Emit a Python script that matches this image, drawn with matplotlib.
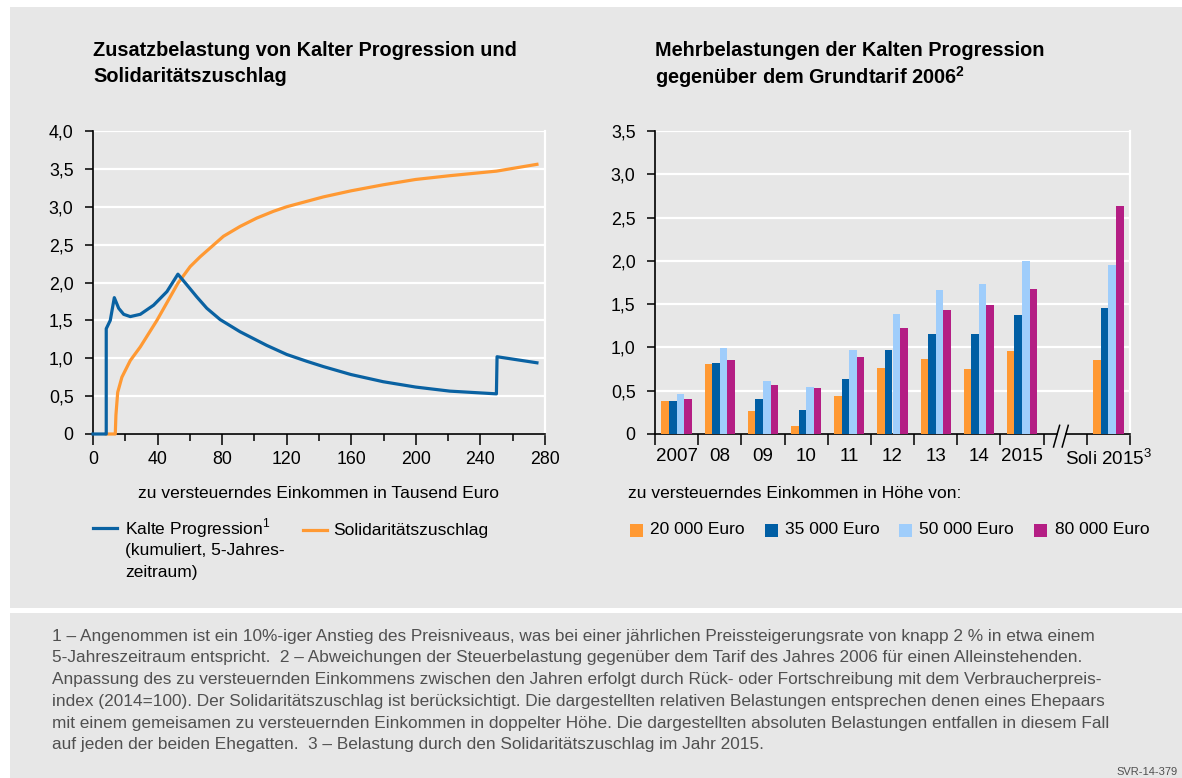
import numpy as np
import matplotlib.pyplot as plt
from matplotlib.patches import Rectangle
from matplotlib.lines import Line2D
from matplotlib.ticker import MultipleLocator, FuncFormatter

# left chart: cumulative extra burden (in %) by taxable income (thousand euro)
kp_x = [0, 8.2, 8.2, 10.7, 13.2, 15.9, 19, 23.1, 29.3, 37.5, 45.8, 52.6, 58.1, 64.3, 70.5,
        78.8, 91.1, 107.6, 120, 132.4, 142.7, 159.8, 179.8, 199.8, 221, 249.9, 250.3, 275]
kp_y = [0, 0, 1.39, 1.50, 1.80, 1.66, 1.58, 1.55, 1.58, 1.70, 1.88, 2.11, 1.97, 1.81, 1.66,
        1.51, 1.35, 1.17, 1.05, 0.96, 0.89, 0.785, 0.69, 0.62, 0.566, 0.53, 1.02, 0.94]
soli_x = [8.2, 13.8, 14.2, 15.3, 17.9, 23.1, 29.3, 39.6, 52.6, 60.2, 66.4, 80.8, 91.1, 101.4,
          111.8, 120, 142.7, 159.8, 179.8, 199.8, 221, 249.9, 275]
soli_y = [0, 0, 0.25, 0.55, 0.75, 0.97, 1.15, 1.50, 1.99, 2.21, 2.34, 2.61, 2.74, 2.85,
          2.94, 3.0, 3.13, 3.21, 3.29, 3.36, 3.41, 3.47, 3.56]

# right chart: extra burden vs. 2006 tariff
years = ["2007", "08", "09", "10", "11", "12", "13", "14", "2015", "", "Soli 2015$^3$"]
inc_labels = ["20 000 Euro", "35 000 Euro", "50 000 Euro", "80 000 Euro"]
v20 = [0.38, 0.81, 0.27, 0.09, 0.44, 0.76, 0.87, 0.75, 0.96, np.nan, 0.85]
v35 = [0.38, 0.82, 0.40, 0.28, 0.64, 0.97, 1.16, 1.15, 1.37, np.nan, 1.46]
v50 = [0.46, 0.99, 0.61, 0.54, 0.97, 1.39, 1.66, 1.73, 2.00, np.nan, 1.95]
v80 = [0.40, 0.85, 0.57, 0.53, 0.89, 1.22, 1.43, 1.49, 1.68, np.nan, 2.63]

notes = [
    "1 – Angenommen ist ein 10%-iger Anstieg des Preisniveaus, was bei einer jährlichen Preissteigerungsrate von knapp 2 % in etwa einem",
    "5-Jahreszeitraum entspricht.  2 – Abweichungen der Steuerbelastung gegenüber dem Tarif des Jahres 2006 für einen Alleinstehenden.",
    "Anpassung des zu versteuernden Einkommens zwischen den Jahren erfolgt durch Rück- oder Fortschreibung mit dem Verbraucherpreis-",
    "index (2014=100). Der Solidaritätszuschlag ist berücksichtigt. Die dargestellten relativen Belastungen entsprechen denen eines Ehepaars",
    "mit einem gemeisamen zu versteuernden Einkommen in doppelter Höhe. Die dargestellten absoluten Belastungen entfallen in diesem Fall",
    "auf jeden der beiden Ehegatten.  3 – Belastung durch den Solidaritätszuschlag im Jahr 2015.",
]

BG = "#e7e7e7"
BLUE = "#0a62a2"
ORANGE = "#ff9933"
bar_cols = ["#ff9933", "#005ea4", "#9fcdfb", "#b41e84"]
FONT = "Liberation Sans"
plt.rcParams["font.family"] = FONT
plt.rcParams["mathtext.fontset"] = "custom"
plt.rcParams["mathtext.rm"] = FONT
plt.rcParams["mathtext.bf"] = FONT + ":bold"

W, H = 1182, 778
fig = plt.figure(figsize=(W / 100, H / 100), dpi=100)
fig.patch.set_facecolor("white")


def fx(x):
    return x / W


def fy(y):
    return 1 - y / H


fig.patches.append(Rectangle((fx(10), fy(608)), fx(W - 10), 601 / H, transform=fig.transFigure,
                             facecolor=BG, edgecolor="none", zorder=-5))
fig.patches.append(Rectangle((fx(10), 0), fx(W - 10), fy(613), transform=fig.transFigure,
                             facecolor=BG, edgecolor="none", zorder=-5))


def fmt(v, pos):
    return "0" if abs(v) < 1e-9 else f"{v:.1f}".replace(".", ",")


def style(ax, ymax):
    ax.set_facecolor(BG)
    ax.set_ylim(0, ymax)
    ax.yaxis.set_major_locator(MultipleLocator(0.5))
    ax.yaxis.set_major_formatter(FuncFormatter(fmt))
    ax.grid(axis="y", color="white", lw=1.6, zorder=0)
    ax.set_axisbelow(True)
    ax.spines["top"].set_visible(False)
    ax.spines["right"].set_color("white")
    ax.spines["right"].set_linewidth(1.6)
    for s in ("left", "bottom"):
        ax.spines[s].set_color("black")
        ax.spines[s].set_linewidth(1.2)
    ax.tick_params(axis="y", length=6, width=1.1, pad=8, labelsize=12.8)
    ax.tick_params(axis="x", which="major", length=8, width=1.1, labelsize=12.8, pad=4)


# left chart
ax1 = fig.add_axes([fx(93), fy(434), fx(545 - 93), 303 / H])
style(ax1, 4.0)
ax1.plot(kp_x, kp_y, color=BLUE, lw=2.3, zorder=4, clip_on=False)
ax1.plot(soli_x, soli_y, color=ORANGE, lw=2.3, zorder=3, clip_on=False)
ax1.set_xlim(0, 280)
ax1.xaxis.set_major_locator(MultipleLocator(40))
ax1.xaxis.set_minor_locator(MultipleLocator(20))
ax1.tick_params(axis="x", which="minor", length=5, width=1.1)
ax1.set_xlabel("zu versteuerndes Einkommen in Tausend Euro", fontsize=12.5, labelpad=13)

# right chart
ax2 = fig.add_axes([fx(655), fy(434), fx(1130 - 655), 303 / H])
style(ax2, 3.5)
slots = np.arange(len(years))
bw = 0.175
for k, (vals, col) in enumerate(zip([v20, v35, v50, v80], bar_cols)):
    ax2.bar(slots + 0.5 + (k - 1.5) * bw, vals, width=bw, color=col, zorder=3, label=inc_labels[k])
ax2.set_xlim(0, len(years))
ax2.set_xticks(np.arange(len(years) + 1))
ax2.set_xticklabels([])
ax2.set_xticks(slots + 0.5, minor=True)
ax2.set_xticklabels(years, minor=True)
ax2.tick_params(axis="x", which="minor", length=0, labelsize=13.5, pad=10)

# axis break marks
ax2.add_patch(Rectangle((9.33, -0.03), 0.17, 0.06, transform=ax2.transData, facecolor=BG,
                        edgecolor="none", clip_on=False, zorder=5))
for x0 in (9.30, 9.50):
    ax2.plot([x0 - 0.07, x0 + 0.07], [-0.15, 0.1], color="black", lw=1.1, clip_on=False, zorder=6)

# titles
fig.text(fx(93), fy(50), "Zusatzbelastung von Kalter Progression und", fontsize=14.3,
         fontweight="bold", va="center")
fig.text(fx(93), fy(77), "Solidaritätszuschlag", fontsize=14.3, fontweight="bold", va="center")
fig.text(fx(655), fy(50), "Mehrbelastungen der Kalten Progression", fontsize=14.3,
         fontweight="bold", va="center")
fig.text(fx(655), fy(77), r"gegenüber dem Grundtarif 2006$^{\mathbf{2}}$", fontsize=14.3,
         fontweight="bold", va="center")

# left legend
fig.add_artist(Line2D([fx(93), fx(117)], [fy(528), fy(528)], color=BLUE, lw=2.3))
for i, line in enumerate(["Kalte Progression$^1$", "(kumuliert, 5-Jahres-", "zeitraum)"]):
    fig.text(fx(125), fy(528 + 22 * i), line, fontsize=12.5, va="center")
fig.add_artist(Line2D([fx(303), fx(327)], [fy(530), fy(530)], color=ORANGE, lw=2.3))
fig.text(fx(333), fy(530), "Solidaritätszuschlag", fontsize=12.5, va="center")

# right legend
fig.text(fx(628), fy(494), "zu versteuerndes Einkommen in Höhe von:", fontsize=12.5, va="center")
for sx, tx, col, lab in zip([630, 765, 899, 1034], [650, 785, 919, 1055], bar_cols, inc_labels):
    fig.patches.append(Rectangle((fx(sx), fy(537)), fx(13), 13 / H, transform=fig.transFigure,
                                 facecolor=col, edgecolor="none"))
    fig.text(fx(tx), fy(530), lab, fontsize=12.5, va="center")

# footnotes
for i, line in enumerate(notes):
    fig.text(fx(52), fy(636 + 21.8 * i), line, fontsize=12.4, color="#505050", va="center")
fig.text(fx(1178), fy(772), "SVR-14-379", fontsize=8, color="#505050", ha="right", va="center")

fig.savefig("out.png", dpi=100, facecolor=fig.get_facecolor())
